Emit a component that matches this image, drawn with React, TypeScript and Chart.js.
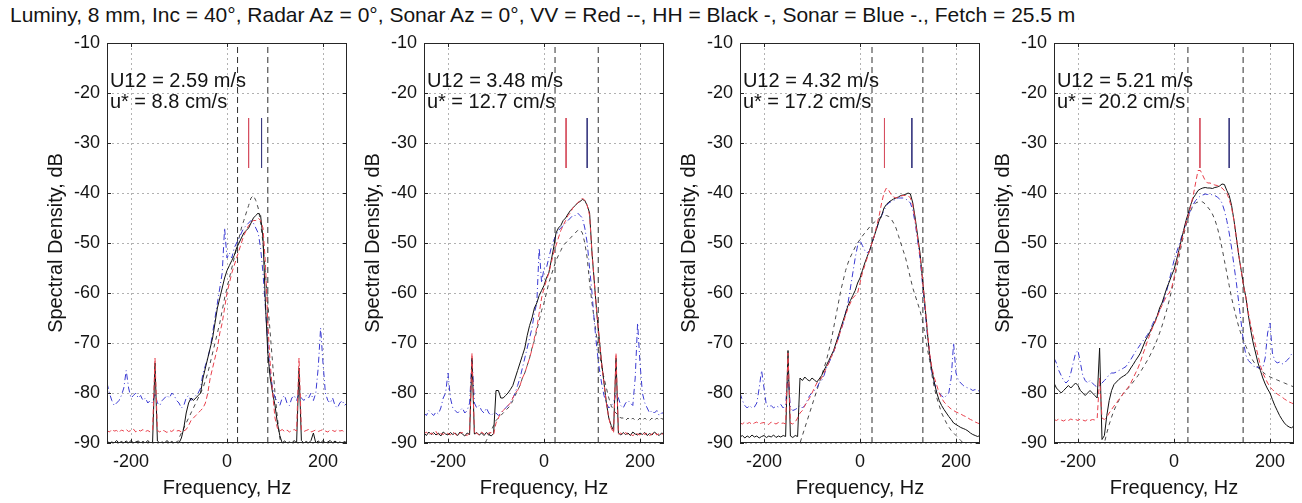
import React, { useEffect, useRef } from 'react';
import { Chart, registerables } from 'chart.js';

Chart.register(...registerables);

const FONT = '"Liberation Sans", Arial, Helvetica, sans-serif';
const TITLE = 'Luminy, 8 mm, Inc = 40°, Radar Az = 0°, Sonar Az = 0°, VV = Red --, HH = Black -, Sonar = Blue -., Fetch = 25.5 m';
const X_LABEL = 'Frequency, Hz';
const Y_LABEL = 'Spectral Density, dB';
const U12_LABELS = ['U12 = 2.59 m/s', 'U12 = 3.48 m/s', 'U12 = 4.32 m/s', 'U12 = 5.21 m/s'];
const USTAR_LABELS = ['u* = 8.8 cm/s', 'u* = 12.7 cm/s', 'u* = 17.2 cm/s', 'u* = 20.2 cm/s'];
const X_TICKS = [-200, 0, 200];
const Y_TICKS = [-90, -80, -70, -60, -50, -40, -30, -20, -10];

const FREQ_HZ = [
  -250, -245, -240, -235, -230, -225, -220, -215, -210, -205,
  -200, -195, -190, -185, -180, -175, -170, -165, -160, -155,
  -150, -145, -140, -135, -130, -125, -120, -115, -110, -105,
  -100, -95, -90, -85, -80, -75, -70, -65, -60, -55,
  -50, -45, -40, -35, -30, -25, -20, -15, -10, -5,
  0, 5, 10, 15, 20, 25, 30, 35, 40, 45,
  50, 55, 60, 65, 70, 75, 80, 85, 90, 95,
  100, 105, 110, 115, 120, 125, 130, 135, 140, 145,
  150, 155, 160, 165, 170, 175, 180, 185, 190, 195,
  200, 205, 210, 215, 220, 225, 230, 235, 240, 245,
  250,
];

// ---------- Panel 1 ----------
const HH_1 = [
  -89.6, -90, -89.8, -90, -89.5, -90, -89.7, -90, -89.6, -90,
  -89.5, -90, -89.8, -89.6, -90, -89.7, -90, -89.5, -90, -89.8,
  -74, -89.6, -90, -89.8, -90, -89.5, -90, -89.7, -90, -89.8,
  -90, -89, -87, -84, -82, -81, -81.5, -81, -80.5, -80,
  -77, -75, -73, -71, -69, -66, -63, -61, -59, -57,
  -55.5, -54.5, -53.5, -52.5, -51, -50, -49, -48, -47.5, -47,
  -46, -45, -44.5, -44, -44.5, -49, -62, -72, -77, -80,
  -82.5, -86, -88.5, -90, -89.6, -90, -89.8, -90, -89.5, -90,
  -75, -89.5, -90, -89.7, -90, -89.5, -88, -90, -89.6, -90,
  -89.5, -90, -89.8, -89.5, -90, -89.6, -90, -89.8, -90, -89.7,
  -90,
];
const VV_1 = [
  -87.5, -87.8, -87.3, -87.6, -87.5, -87.9, -87.4, -87.6, -87.3, -87.7,
  -87.5, -87.2, -87.8, -87.4, -87.6, -87.3, -87.7, -87.5, -87.8, -87.4,
  -73, -87.5, -87.8, -87.4, -87.6, -87.9, -87.5, -87.7, -87.3, -87.6,
  -87.5, -87.8, -87.6, -87.3, -86.5, -85.5, -85, -84.5, -84, -83.5,
  -83, -82, -80, -77, -75, -73, -71, -68, -66, -63,
  -60, -58, -56, -54.5, -53, -51.5, -50, -48.5, -47.5, -46.5,
  -46, -45.5, -45.5, -45, -45.5, -47, -54, -66, -74, -80,
  -85, -87, -87.6, -87.3, -87.7, -87.4, -87.8, -87.5, -87.3, -87.6,
  -73, -87.4, -87.7, -87.5, -87.3, -87.8, -87.6, -87.4, -87.7, -87.5,
  -87.3, -87.6, -87.8, -87.4, -87.5, -87.7, -87.3, -87.6, -87.5, -87.8,
  -87.5,
];
const SONAR_1 = [
  -78, -80, -81.5, -82.5, -82, -81.5, -80.5, -79, -75.5, -79,
  -81, -80.5, -80, -81, -80.5, -81.5, -81, -82, -81.5, -82,
  -80, -82, -82.5, -81.5, -81, -80.5, -81, -80, -80.5, -81.5,
  -82, -83, -82.5, -81, -80.5, -81.5, -81, -80.5, -80, -79,
  -76, -74.5, -73, -71, -68, -65, -62, -59, -56, -47,
  -53, -52, -53, -51, -50, -49, -48, -47, -46.5, -46,
  -45.5, -46, -47, -48, -51, -56, -63, -70, -76, -79,
  -81, -81.5, -82.5, -81, -80.5, -82, -82.5, -81, -80.5, -81.5,
  -80, -81, -81.5, -80.5, -81, -80, -81.5, -80, -75, -67,
  -74, -80, -81.5, -82, -81, -82.5, -83, -82, -81.5, -82.5,
  -82,
];
const MODEL_1 = [
  -91, -91, -91, -91, -91, -91, -91, -91, -91, -91,
  -91, -91, -91, -91, -91, -91, -91, -91, -91, -91,
  -91, -91, -91, -91, -91, -91, -91, -91, -91, -90.5,
  -89, -88, -87, -86, -85, -84, -83, -82, -81, -80,
  -79, -77.5, -76, -74, -72, -70, -68, -66, -63.5, -61,
  -59, -57, -55, -53, -51, -49, -47, -45.5, -44, -42.5,
  -41, -40.5, -41.5, -43, -46, -50, -56, -62, -68, -74,
  -80, -85, -89, -91, -91, -91, -91, -91, -91, -91,
  -91, -91, -91, -91, -91, -91, -91, -91, -91, -91,
  -91, -91, -91, -91, -91, -91, -91, -91, -91, -91,
  -91,
];

// ---------- Panel 2 ----------
const HH_2 = [
  -88, -88.5, -87.8, -88.3, -87.9, -88.4, -88, -88.6, -87.8, -88.2,
  -88.4, -87.9, -88.3, -88, -88.5, -87.8, -88.2, -88.6, -88, -88.3,
  -73, -88.2, -87.9, -88.4, -88, -88.5, -87.9, -88.3, -88.6, -88.1,
  -79.5, -79.5, -81, -81, -80.5, -80, -79.3, -78.5, -77, -75.5,
  -74, -72.5, -71, -68.5, -66.5, -65, -63, -62, -60.5, -59.5,
  -58.5, -57, -56, -53.5, -51, -48, -47, -46.5, -45.5, -45,
  -44.2, -43.5, -43, -42.5, -42, -41.7, -41.3, -41.5, -42.5, -44,
  -52, -58, -64, -69, -74, -78, -82, -85, -86.5, -87.5,
  -73, -88, -88.4, -87.9, -88.3, -88, -88.5, -87.8, -88.2, -88.4,
  -88, -88.3, -87.9, -88.5, -88.1, -88.4, -87.8, -88.2, -88.5, -88,
  -88.2,
];
const VV_2 = [
  -88.2, -87.8, -88.4, -88, -88.3, -87.7, -88.5, -88.1, -88.3, -87.9,
  -88.1, -88.4, -87.8, -88.2, -88.6, -88, -87.9, -88.3, -88.5, -88,
  -72, -88.3, -88, -88.5, -87.8, -88.2, -88.4, -88, -87.9, -88.3,
  -86, -85, -84, -83.5, -83, -82.5, -82, -81, -80, -79.5,
  -78.5, -77, -76, -74.5, -73, -71.3, -69, -67, -64, -61,
  -59, -57.5, -56, -54, -52, -50.5, -49, -47.5, -46.5, -45.5,
  -44.5, -44, -43, -42.5, -42, -41.5, -41, -41.5, -42.5, -44.5,
  -52, -58, -64, -69, -74, -78, -82, -85, -87, -88,
  -72, -88.2, -88, -88.4, -87.9, -88.3, -88.1, -88.6, -88, -88.2,
  -88.4, -87.9, -88.3, -88, -88.5, -88.2, -87.8, -88.4, -88.1, -88.3,
  -88,
];
const SONAR_2 = [
  -84, -84.5, -83.5, -84, -84.5, -83.8, -84.2, -83, -81, -80,
  -76, -81, -83, -83.5, -84, -83.5, -83, -84, -83.5, -82,
  -73, -82, -83, -82.5, -83.5, -84, -83, -84, -84.5, -84,
  -84, -84.5, -84, -83.5, -83, -82.5, -82, -81, -80, -78.5,
  -77, -75, -73, -71, -69, -67, -64, -62, -51, -58,
  -55, -55, -53, -51, -49.5, -48.5, -47.5, -47, -46.5, -46,
  -45.5, -45, -44.5, -44.5, -44, -44.5, -45, -47, -50, -55,
  -60, -66, -71, -75, -78, -80.5, -82, -83, -82.5, -82,
  -80, -81, -82.5, -83, -82, -81.5, -82, -82.5, -77, -66,
  -74, -80, -82, -83, -84, -83.5, -84, -83.5, -84.5, -84,
  -84,
];
const MODEL_2 = [
  -91, -91, -91, -91, -91, -91, -91, -91, -91, -91,
  -91, -91, -91, -91, -91, -91, -91, -91, -91, -91,
  -91, -91, -91, -91, -91, -90.5, -89.5, -88.5, -87.5, -86.5,
  -85.5, -85, -84.5, -84, -83.5, -83, -82.5, -81.5, -80.5, -79.5,
  -78.5, -77, -76, -74.5, -73, -71, -69.5, -67.5, -65.5, -63.5,
  -62, -60, -58, -56.5, -55, -53.5, -52.5, -51.5, -50.5, -50,
  -49.5, -49, -48.5, -48, -47.5, -47.3, -48, -50, -53, -58,
  -62, -65.5, -69, -72, -74.5, -77, -79, -81, -82.5, -83.5,
  -84, -84.5, -85, -85, -85.5, -85, -85.5, -85, -85.5, -85.5,
  -85, -85.5, -85, -85.5, -85.5, -85, -85.5, -85, -85.5, -85,
  -85.5,
];

// ---------- Panel 3 ----------
const HH_3 = [
  -88.8, -88.5, -89, -88.6, -88.9, -88.4, -88.8, -88.6, -89, -88.7,
  -88.5, -88.9, -88.6, -88.8, -88.4, -88.9, -88.6, -88.8, -88.5, -88.7,
  -71.5, -88.6, -88.9, -88.5, -88.7, -77, -77.5, -76.8, -77.3, -77.6,
  -77, -77.4, -77.8, -77.2, -76.5, -75.5, -74.5, -73.5, -72.5, -71.5,
  -70, -68.5, -67, -65.5, -64, -62.5, -61.5, -60.5, -59.5, -58,
  -57, -55.5, -54, -52.7, -51.5, -50, -48.5, -47, -45.5, -44.5,
  -43, -42.3, -41.8, -41.5, -41.2, -41, -40.8, -40.5, -40.4, -40.3,
  -40, -40.2, -42, -45, -48.5, -52, -57, -62, -67.5, -72.5,
  -75.5, -78, -80, -81.5, -82.5, -83.3, -84, -84.7, -85.3, -86,
  -86.3, -86.6, -86.9, -87.1, -87.3, -87.6, -88, -88.3, -88.5, -88.7,
  -88.5,
];
const VV_3 = [
  -86, -86.2, -85.8, -86.1, -85.9, -86.3, -86, -85.8, -86.2, -86,
  -85.9, -86.1, -86.3, -85.8, -86, -86.2, -85.9, -86.1, -86, -86.2,
  -72, -86, -86.2, -85.8, -85, -84, -83.5, -82.5, -81.8, -81,
  -80, -79, -78, -77.5, -77, -76, -75, -74, -72.8, -71.8,
  -70.5, -69, -67.5, -66, -64.5, -63, -62, -61, -60.5, -60,
  -58, -56, -54.5, -53, -51.5, -50, -48.5, -46.5, -44.5, -42,
  -40, -39, -39.5, -40.3, -40.8, -41, -40.8, -40.6, -40.5, -40.5,
  -40.5, -41, -42.5, -45.5, -49, -52.5, -57, -62, -67, -72,
  -75, -77, -78.5, -80, -81, -81.8, -82.3, -82.8, -83.2, -83.5,
  -83.8, -84, -84.2, -84.5, -84.7, -85, -85.3, -85.5, -85.8, -86,
  -86.2,
];
const SONAR_3 = [
  -80, -81.5, -82.5, -83, -82.5, -83, -82.8, -82, -79, -75.5,
  -79, -82.5, -82.8, -82.5, -83, -82.6, -82.8, -82.3, -83, -82.5,
  -76, -83, -83.5, -83.3, -83, -82.5, -83, -82.5, -81.5, -80.5,
  -80, -79.5, -79, -78, -77.5, -76.5, -75, -74, -73, -71.8,
  -70.5, -69, -67.5, -66, -64, -62, -59, -56, -53, -50.5,
  -49.5, -50.5, -51.5, -52, -51.5, -50, -48.5, -47, -45.5, -44.5,
  -43.5, -42.5, -42, -41.7, -41.5, -41.2, -41, -41, -41, -41.2,
  -41.5, -42, -43.5, -46, -49.5, -53, -58, -63, -68, -72,
  -76, -78, -79.5, -80, -80.5, -81, -80.5, -80, -77, -70,
  -76, -77.5, -78, -78.5, -78.8, -79, -79.2, -79.5, -79.3, -79.6,
  -79.5,
];
const MODEL_3 = [
  -91, -91, -91, -91, -91, -91, -91, -91, -91, -91,
  -91, -91, -91, -91, -91, -91, -91, -91, -91, -91,
  -91, -91, -91, -91, -91, -90, -88.5, -87, -85.5, -84,
  -82.5, -81, -79.5, -78, -76.5, -75, -73.5, -71.5, -69.5, -67,
  -64.5, -62, -59.5, -57.5, -55.5, -54, -52.8, -51.8, -50.8, -50,
  -49.3, -48.6, -48, -47.4, -46.8, -46.3, -45.8, -45.4, -45, -44.8,
  -44.6, -44.5, -44.7, -45.2, -46, -47, -48.5, -50, -51.5, -53,
  -55, -57, -59, -60.5, -62, -63.5, -65.5, -68, -71, -73.5,
  -76.5, -79, -81, -82.5, -84, -85, -86, -86.8, -87.5, -88,
  -88.5, -89, -89.5, -90, -90.5, -91, -91, -91, -91, -91,
  -91,
];

// ---------- Panel 4 ----------
const HH_4 = [
  -78, -79, -79.5, -80, -79.5, -79, -78.5, -79, -78.5, -78,
  -78.5, -79.5, -80, -80.5, -80, -79.5, -80, -80.5, -81, -71,
  -89.3, -88.5, -84.5, -81.5, -79.5, -78.3, -77.8, -77.3, -76.9, -76.6,
  -76.3, -75.8, -75, -74.3, -73.5, -72.8, -72, -70.8, -69.6, -68.7,
  -67.8, -66.8, -65.8, -64.6, -63, -62, -60.5, -59, -57.8, -56.5,
  -55.3, -53.5, -51.5, -49.5, -47.5, -45.5, -44, -42.3, -41, -40.3,
  -39.5, -39.2, -39, -38.9, -39, -39, -39.1, -38.9, -38.8, -38.6,
  -38.2, -38.3, -39.5, -40.5, -42.5, -45.5, -49, -52.5, -55.5, -58.5,
  -61, -64.5, -67.5, -70, -72, -74, -75.5, -77, -78.2, -79.2,
  -80, -81.3, -82.5, -83.5, -84.5, -85.3, -86, -86.5, -86.8, -87,
  -86.5,
];
const VV_4 = [
  -85.3, -85.5, -85.2, -85.4, -85.6, -85.3, -85.5, -85.2, -85.4, -85.3,
  -85.5, -85.2, -85.4, -85.6, -85.3, -85.5, -85.3, -85.4, -85, -77,
  -85, -85.3, -84.8, -84, -83.3, -82.6, -82, -81.3, -80.7, -80,
  -79.4, -78.8, -78, -77, -76, -75, -73.8, -72.3, -71, -69.5,
  -68.3, -67, -66, -64.8, -63.5, -62.5, -61.5, -60.5, -60, -59,
  -57, -54.5, -52, -50, -48, -46, -44.5, -42.5, -40.5, -38,
  -35.5, -35.5, -36.5, -37.5, -38, -38, -38.2, -38.4, -38.5, -38.7,
  -39, -39.5, -40, -41.3, -43, -45.5, -49, -52.5, -55.5, -58.7,
  -61, -64, -66.5, -68.5, -70.5, -72.5, -74.5, -76, -77, -78,
  -78.8, -79.3, -79.8, -80.2, -80.5, -80.8, -81.2, -81.5, -81.8, -82,
  -82.2,
];
const SONAR_4 = [
  -73, -74, -75.5, -76.5, -77.5, -78, -77.5, -76, -74, -72,
  -71.5, -74, -76.5, -77.5, -78, -77.5, -78, -78.5, -78.8, -78.5,
  -78, -77.5, -77, -76.3, -76, -76, -75.8, -75.5, -75.3, -75,
  -74.7, -74, -73.3, -72.5, -71.7, -71, -70.3, -69.6, -69, -68.3,
  -67.5, -66.3, -65.3, -64.5, -63.5, -62.5, -61, -59.5, -57.5, -55.5,
  -53.5, -52, -50.5, -49, -47.5, -46, -44.5, -43.3, -42.3, -41.5,
  -41, -40.6, -40.4, -40.2, -40.3, -40.2, -40.4, -40.5, -40.8, -41.2,
  -42, -43.5, -45.5, -48, -51, -54.5, -58, -62, -66, -70,
  -72.5, -73.5, -74, -74.5, -75, -74.8, -75.2, -75, -73, -68,
  -66, -72, -73.5, -74, -73.8, -74.2, -74, -73.5, -73, -72.2,
  -72,
];
const MODEL_4 = [
  -91, -91, -91, -91, -91, -91, -91, -91, -91, -91,
  -91, -91, -91, -91, -91, -91, -91, -91, -91, -91,
  -91, -90, -88, -86.3, -84.8, -83.5, -82.4, -81.5, -80.7, -80,
  -79.5, -79, -78.4, -77.8, -77.2, -76.5, -75.8, -75, -74.2, -73.4,
  -72.5, -71.5, -70.5, -69.3, -68, -66.6, -65, -63.3, -61.5, -59.5,
  -57.5, -55.3, -53, -50.7, -48.5, -46.5, -44.8, -43.5, -42.5, -42,
  -41.8, -41.7, -41.8, -42.2, -42.8, -43.4, -44.2, -45.3, -46.8, -48.7,
  -51, -53.5, -56, -58.5, -61, -63, -65, -66.8, -68.3, -69.5,
  -70.7, -71.8, -72.8, -73.6, -74.3, -74.9, -75.4, -75.8, -76.2, -76.5,
  -76.8, -77, -77.2, -77.4, -77.6, -77.8, -78, -78.2, -78.4, -78.6,
  -78.8,
];

const HH = [HH_1, HH_2, HH_3, HH_4];
const VV = [VV_1, VV_2, VV_3, VV_4];
const SONAR = [SONAR_1, SONAR_2, SONAR_3, SONAR_4];
const MODEL = [MODEL_1, MODEL_2, MODEL_3, MODEL_4];

// vertical dashed reference lines (Hz) and short peak markers (Hz)
const DASH_LO_HZ = [22, 23, 25, 29];
const DASH_HI_HZ = [85, 113, 131, 144];
const VV_MARK_HZ = [45, 46, 51, 54];
const SONAR_MARK_HZ = [72, 90, 108, 115];
const MARK_DB = [-25, -35];
const FULL_DB = [-90, -10];

// layout
const PANEL_LEFT = [107, 424, 740, 1054];
const PLOT_W = 240;
const Y_AXIS_W = 70;
const CANVAS_W = Y_AXIS_W + PLOT_W + 10;
const CANVAS_H = 503;

const TEXT = '#141414';
const GRID = 'rgba(0,0,0,0.30)';

const framePlugin = {
  id: 'frame',
  afterDraw(chart: any, _args: any, opts: any) {
    const { ctx, chartArea: a, scales } = chart;
    ctx.save();
    ctx.strokeStyle = '#262626';
    ctx.lineWidth = 1;
    ctx.strokeRect(a.left + 0.5, a.top + 0.5, a.right - a.left - 1, a.bottom - a.top - 1);
    ctx.beginPath();
    const tl = 4;
    X_TICKS.forEach((v) => {
      const px = Math.round(scales.x.getPixelForValue(v)) + 0.5;
      ctx.moveTo(px, a.bottom);
      ctx.lineTo(px, a.bottom - tl);
      ctx.moveTo(px, a.top);
      ctx.lineTo(px, a.top + tl);
    });
    Y_TICKS.forEach((v) => {
      const py = Math.round(scales.y.getPixelForValue(v)) + 0.5;
      ctx.moveTo(a.left, py);
      ctx.lineTo(a.left + tl, py);
      ctx.moveTo(a.right, py);
      ctx.lineTo(a.right - tl, py);
    });
    ctx.stroke();
    ctx.fillStyle = TEXT;
    ctx.font = `20px ${FONT}`;
    ctx.textAlign = 'left';
    ctx.textBaseline = 'middle';
    const tx = scales.x.getPixelForValue(-244);
    ctx.fillText(opts.line1, tx, scales.y.getPixelForValue(-17.6));
    ctx.fillText(opts.line2, tx, scales.y.getPixelForValue(-21.8));
    ctx.restore();
  },
};

function Panel({ idx }: { idx: number }) {
  const ref = useRef<HTMLCanvasElement>(null);
  useEffect(() => {
    const pts = (ys: number[]) => FREQ_HZ.map((f, i) => ({ x: f, y: ys[i] }));
    const vline = (f: number, range: number[]) => range.map((y) => ({ x: f, y }));
    const chart = new Chart(ref.current as HTMLCanvasElement, {
      type: 'line',
      data: {
        datasets: [
          { label: 'VV marker', data: vline(VV_MARK_HZ[idx], MARK_DB), borderColor: 'rgb(214,80,96)', borderWidth: 1 },
          { label: 'Sonar marker', data: vline(SONAR_MARK_HZ[idx], MARK_DB), borderColor: 'rgb(60,60,130)', borderWidth: 1 },
          { label: 'VV', data: pts(VV[idx]), borderColor: 'rgb(232,64,76)', borderDash: [5, 3], borderWidth: 1 },
          { label: 'HH', data: pts(HH[idx]), borderColor: '#111111', borderWidth: 1 },
          { label: 'Sonar', data: pts(SONAR[idx]), borderColor: 'rgb(58,58,210)', borderDash: [6, 3, 1, 3], borderWidth: 1 },
          { label: 'Model', data: pts(MODEL[idx]), borderColor: '#4a4a4a', borderDash: [4, 4], borderWidth: 1 },
          { label: 'lo', data: vline(DASH_LO_HZ[idx], FULL_DB), borderColor: '#303030', borderDash: [6, 4], borderWidth: 1 },
          { label: 'hi', data: vline(DASH_HI_HZ[idx], FULL_DB), borderColor: '#303030', borderDash: [6, 4], borderWidth: 1 },
        ],
      },
      options: {
        animation: false,
        responsive: false,
        devicePixelRatio: 1,
        events: [],
        layout: { padding: { top: 43, right: 10, left: 0, bottom: 0 } },
        elements: { point: { radius: 0 }, line: { tension: 0 } },
        plugins: {
          legend: { display: false },
          tooltip: { enabled: false },
          frame: { line1: U12_LABELS[idx], line2: USTAR_LABELS[idx] },
        } as any,
        scales: {
          x: {
            type: 'linear',
            min: -250,
            max: 250,
            afterBuildTicks: (s: any) => { s.ticks = X_TICKS.map((v) => ({ value: v })); },
            afterFit: (s: any) => { s.height = 60; },
            grid: { color: GRID, drawTicks: false, lineWidth: 1 },
            border: { display: false, dash: [2, 3] },
            ticks: { padding: 8, color: TEXT, font: { family: FONT, size: 18 }, maxRotation: 0, autoSkip: false },
            title: { display: true, text: X_LABEL, color: TEXT, font: { family: FONT, size: 20 }, padding: { top: 0, bottom: 3 } },
          },
          y: {
            type: 'linear',
            min: -90,
            max: -10,
            afterBuildTicks: (s: any) => { s.ticks = Y_TICKS.map((v) => ({ value: v })); },
            afterFit: (s: any) => { s.width = Y_AXIS_W; },
            grid: { color: GRID, drawTicks: false, lineWidth: 1 },
            border: { display: false, dash: [2, 3] },
            ticks: { padding: 7, color: TEXT, font: { family: FONT, size: 18 }, autoSkip: false },
            title: { display: true, text: Y_LABEL, color: TEXT, font: { family: FONT, size: 20 }, padding: { top: 7, bottom: 0 } },
          },
        },
      } as any,
      plugins: [framePlugin as any],
    });
    return () => chart.destroy();
  }, [idx]);
  return (
    <canvas
      ref={ref}
      width={CANVAS_W}
      height={CANVAS_H}
      style={{ position: 'absolute', left: PANEL_LEFT[idx] - Y_AXIS_W, top: 0, width: CANVAS_W, height: CANVAS_H }}
    />
  );
}

export default function App() {
  return (
    <div style={{ position: 'absolute', left: 0, top: 0, width: 1302, height: 503, overflow: 'hidden', background: '#fff' }}>
      <div
        style={{
          position: 'absolute', left: 10, top: 4, fontFamily: FONT, fontSize: 21, lineHeight: '21px',
          color: TEXT, whiteSpace: 'nowrap',
        }}
      >
        {TITLE}
      </div>
      {[0, 1, 2, 3].map((i) => <Panel key={i} idx={i} />)}
    </div>
  );
}
